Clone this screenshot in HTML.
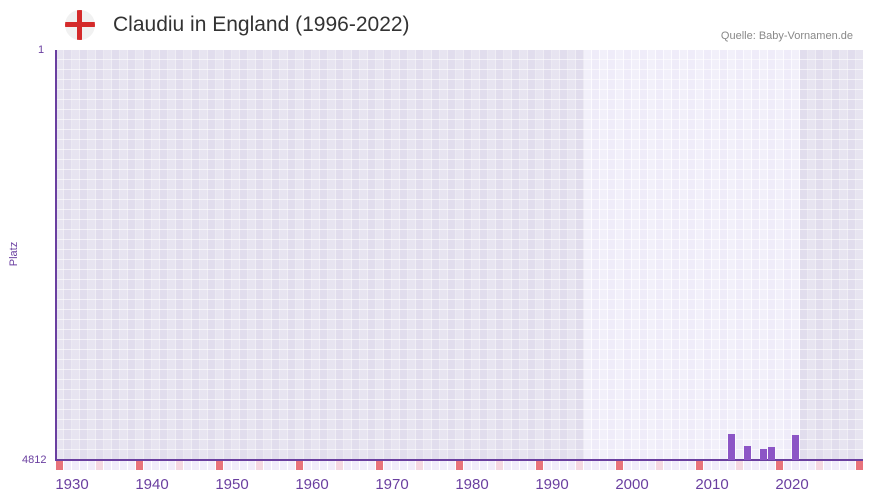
<!DOCTYPE html><html><head><meta charset="utf-8"><style>
body{margin:0;width:873px;height:502px;background:#fff;font-family:"Liberation Sans",sans-serif;position:relative;overflow:hidden}
.a{position:absolute}
.reg{position:absolute;top:50px;height:410px}
.dark{background:repeating-linear-gradient(90deg,#e1dded 0 7px,#ebe9f2 7px 8px),#e1dded}
.light{background:repeating-linear-gradient(90deg,#efecf9 0 7px,#fbfaff 7px 8px)}
.h{position:absolute;left:56px;width:807px;top:50px;height:410px;background:repeating-linear-gradient(180deg,transparent 0 9px,rgba(255,255,255,.6) 9px 10px)}
.alt{position:absolute;top:50px;height:410px;background:repeating-linear-gradient(90deg,rgba(255,255,255,.2) 0 8px,transparent 8px 16px)}
.s{position:absolute;top:461px;height:9px;width:7px}
.bar{position:absolute;width:7px;background:#8c55c6;bottom:42px}
.xl{position:absolute;top:476px;font-size:15px;color:#6a3fa0;width:60px;text-align:center}
</style></head><body>
<div class="a" style="left:65px;top:10px;width:30px;height:30px;border-radius:50%;background:#f1f1f1;overflow:hidden">
<div class="a" style="left:12px;top:0;width:5px;height:30px;background:#d42a2a"></div>
<div class="a" style="left:0;top:12px;width:30px;height:5px;background:#d42a2a"></div></div>
<div class="a" style="left:113px;top:13px;font-size:21px;color:#333">Claudiu in England (1996-2022)</div>
<div class="a" style="right:20px;top:30px;font-size:11px;color:#888">Quelle: Baby-Vornamen.de</div>
<div class="reg dark" style="left:56px;width:528px"></div>
<div class="reg light" style="left:584px;width:216px"></div>
<div class="reg dark" style="left:800px;width:63px"></div>
<div class="alt" style="left:56px;width:807px"></div>
<div class="h"></div>
<div class="a" style="left:55px;top:50px;width:2px;height:411px;background:#6a3fa0"></div>
<div class="a" style="left:55px;top:459px;width:808px;height:2px;background:#6a3fa0"></div>
<div class="a" style="left:38px;top:44px;font-size:11px;color:#6a3fa0">1</div>
<div class="a" style="left:22px;top:454px;font-size:11px;color:#6a3fa0">4812</div>
<div class="a" style="left:2px;top:248px;font-size:11px;color:#6a3fa0;transform:rotate(-90deg)">Platz</div>
<div id="strip"></div>
<div class="bar" style="left:728px;height:26px"></div>
<div class="bar" style="left:744px;height:14px"></div>
<div class="bar" style="left:760px;height:11px"></div>
<div class="bar" style="left:768px;height:13px"></div>
<div class="bar" style="left:792px;height:25px"></div>
<div class="xl" style="left:42px">1930</div><div class="xl" style="left:122px">1940</div><div class="xl" style="left:202px">1950</div><div class="xl" style="left:282px">1960</div><div class="xl" style="left:362px">1970</div><div class="xl" style="left:442px">1980</div><div class="xl" style="left:522px">1990</div><div class="xl" style="left:602px">2000</div><div class="xl" style="left:682px">2010</div><div class="xl" style="left:762px">2020</div>
<script>
var h='';for(var y=1928;y<=2028;y++){var d=y%10,c=d==8?'#e8737c':(d==3?'#f5d8e2':'#f1ecfb');h+='<div class="s" style="left:'+(56+(y-1928)*8)+'px;background:'+c+'"></div>';}
document.getElementById('strip').innerHTML=h;
</script>
</body></html>
